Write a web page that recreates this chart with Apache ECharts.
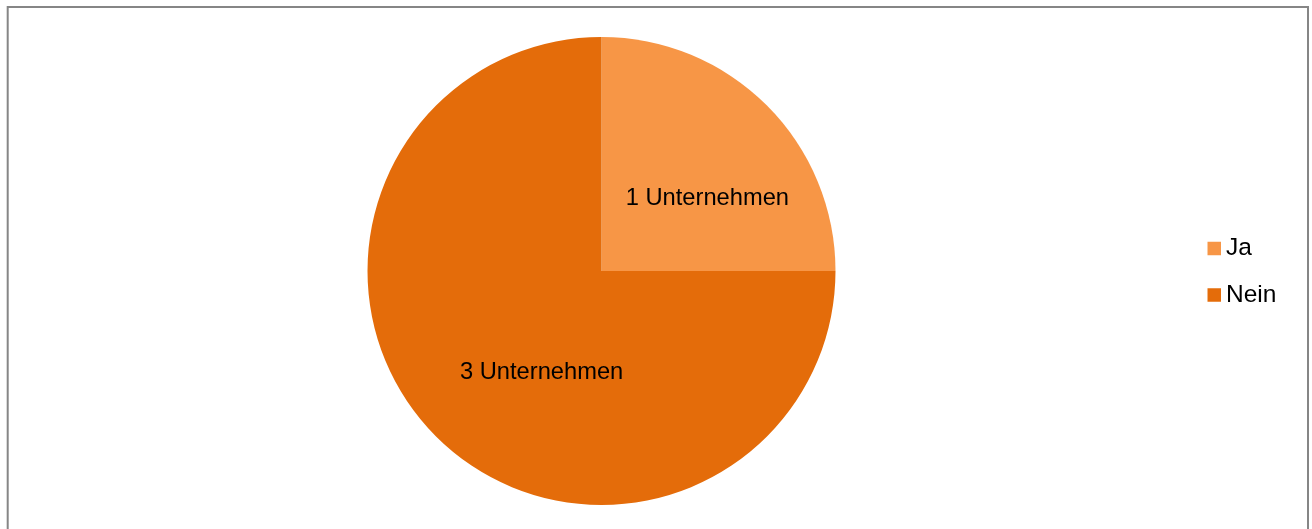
<!DOCTYPE html>
<html>
<head>
<meta charset="utf-8">
<script src="https://cdn.jsdelivr.net/npm/echarts@6/dist/echarts.min.js"></script>
<style>
html,body{margin:0;padding:0;background:#fff;}
#chart{width:1312px;height:529px;}
</style>
</head>
<body>
<div id="chart"></div>
<script>
var categories = ['Ja', 'Nein'];
var values = [1, 3];
var labelTexts = ['1 Unternehmen', '3 Unternehmen'];
var colors = ['#F79646', '#E46C0A'];
var labelShift = [[21, 12], [25, 17]];

var chart = echarts.init(document.getElementById('chart'));
var data = categories.map(function (c, i) {
  return { name: c, value: values[i], itemStyle: { color: colors[i] } };
});
chart.setOption({
  animation: false,
  backgroundColor: '#fff',
  graphic: [{
    type: 'rect',
    shape: { x: 7.7, y: 7, width: 1300.3, height: 600 },
    style: { fill: 'none', stroke: '#868686', lineWidth: 2 },
    silent: true
  }],
  legend: {
    orient: 'vertical',
    left: 1207.5,
    top: 236,
    padding: 0,
    itemWidth: 13.5,
    itemHeight: 13.5,
    itemGap: 21.5,
    icon: 'rect',
    data: categories,
    textStyle: { fontFamily: 'Liberation Sans, Arial, sans-serif', fontSize: 24.5, color: '#000' }
  },
  series: [{
    type: 'pie',
    center: [601.5, 271],
    radius: 234,
    startAngle: 90,
    clockwise: true,
    data: data,
    itemStyle: { borderWidth: 0 },
    label: {
      show: true,
      position: 'inside',
      formatter: function (p) { return labelTexts[p.dataIndex]; },
      fontFamily: 'Liberation Sans, Arial, sans-serif',
      fontSize: 23.7,
      color: '#000'
    },
    labelLine: { show: false },
    labelLayout: function (p) {
      return { dx: labelShift[p.dataIndex][0], dy: labelShift[p.dataIndex][1] };
    },
    emphasis: { disabled: true }
  }]
});
</script>
</body>
</html>
